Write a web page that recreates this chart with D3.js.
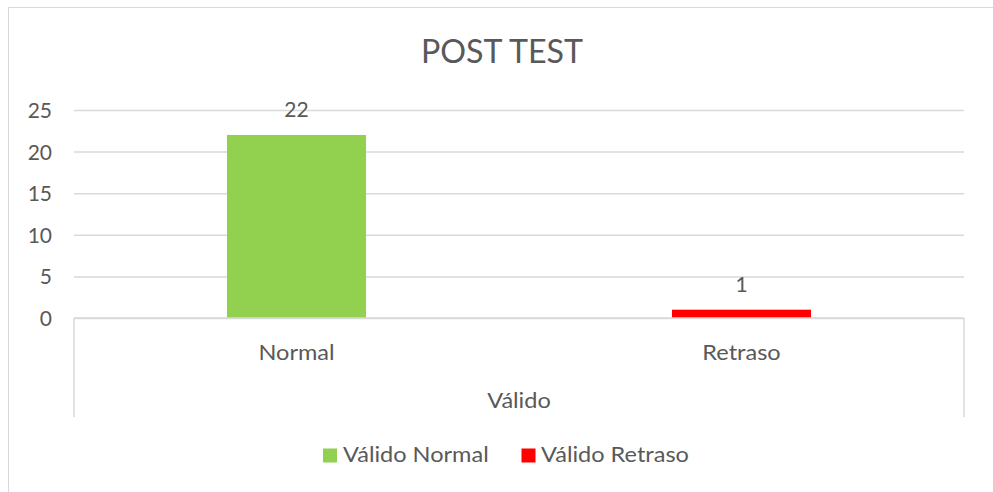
<!DOCTYPE html>
<html>
<head>
<meta charset="utf-8">
<script src="https://cdn.jsdelivr.net/npm/d3@7"></script>
<style>
  html, body { margin: 0; padding: 0; background: #fff; }
  svg { display: block; }
  text { font-family: Lato, "Open Sans", sans-serif; fill: #595959; }
</style>
</head>
<body>
<svg id="chart" width="993" height="492"></svg>
<script>
const title = "POST TEST";
const groupLabel = "Válido";
const categories = ["Normal", "Retraso"];
const seriesNames = ["Válido Normal", "Válido Retraso"];
const values = [22, 1];
const colors = ["#92D050", "#FF0000"];
const yTicks = [0, 5, 10, 15, 20, 25];

const svg = d3.select("#chart");

// widen a text element horizontally by a factor (Calibri-like proportions)
function stretch(sel, f) {
  sel.each(function () {
    const w = this.getComputedTextLength();
    d3.select(this).attr("textLength", w * f).attr("lengthAdjust", "spacingAndGlyphs");
  });
}

// outer chart frame
svg.append("rect")
  .attr("x", 8.5).attr("y", 7.5)
  .attr("width", 1000).attr("height", 500)
  .attr("fill", "none").attr("stroke", "#D9D9D9").attr("stroke-width", 1);

const pLeft = 74, pRight = 964, pTop = 110, pBottom = 318;

const x = d3.scaleBand().domain(categories).range([pLeft, pRight]).padding(0);
const y = d3.scaleLinear().domain([0, 25]).range([pBottom, pTop]);

// title
svg.append("text")
  .attr("x", 502).attr("y", 63)
  .attr("text-anchor", "middle")
  .style("font-size", "33px")
  .text(title)
  .call(stretch, 1.0)
  .each(function () { d3.select(this).attr("textLength", 162); });

// gridlines + y tick labels
const yAxis = d3.axisLeft(y).tickValues(yTicks).tickSize(-(pRight - pLeft)).tickPadding(22);
const gy = svg.append("g").attr("transform", `translate(${pLeft},0)`).call(yAxis);
gy.select(".domain").remove();
gy.selectAll(".tick line").attr("stroke", "#D9D9D9").attr("stroke-width", 1.5);
gy.selectAll(".tick text")
  .style("font-size", "21px").style("font-family", "Lato, sans-serif")
  .attr("fill", "#595959").attr("dy", "0.36em");

// bars
const bw = x.bandwidth() * 0.3125;
svg.append("g").selectAll("rect")
  .data(categories)
  .join("rect")
  .attr("x", (d) => x(d) + (x.bandwidth() - bw) / 2)
  .attr("width", bw)
  .attr("y", (d, i) => y(values[i]))
  .attr("height", (d, i) => y(0) - y(values[i]))
  .attr("fill", (d, i) => colors[i]);

// value labels
svg.append("g").selectAll("text")
  .data(categories)
  .join("text")
  .attr("x", (d) => x(d) + x.bandwidth() / 2)
  .attr("y", (d, i) => y(values[i]) - 18)
  .attr("text-anchor", "middle")
  .style("font-size", "21px")
  .text((d, i) => values[i]);

// category axis (multi-level)
const xAxis = d3.axisBottom(x).tickSize(0).tickPadding(0);
const gx = svg.append("g").attr("transform", `translate(0,${pBottom})`).call(xAxis);
gx.select(".domain").remove();
gx.selectAll(".tick text")
  .attr("y", 42).attr("dy", null)
  .style("font-size", "21px").style("font-family", "Lato, sans-serif").attr("fill", "#595959")
  .call(stretch, 1.12);

svg.append("line")
  .attr("x1", pLeft).attr("x2", pRight).attr("y1", pBottom).attr("y2", pBottom)
  .attr("stroke", "#D9D9D9").attr("stroke-width", 1.5);
[pLeft, pRight].forEach((xx) => {
  svg.append("line")
    .attr("x1", xx).attr("x2", xx).attr("y1", pBottom).attr("y2", 417)
    .attr("stroke", "#D9D9D9").attr("stroke-width", 1.5);
});

svg.append("text")
  .attr("x", (pLeft + pRight) / 2).attr("y", 408)
  .attr("text-anchor", "middle")
  .style("font-size", "21px")
  .text(groupLabel)
  .call(stretch, 1.12);

// legend
const legendItems = [
  { name: seriesNames[0], color: colors[0], x: 323, tx: 343 },
  { name: seriesNames[1], color: colors[1], x: 521.5, tx: 541 }
];
const lg = svg.append("g");
legendItems.forEach((it) => {
  lg.append("rect").attr("x", it.x).attr("y", 448.5).attr("width", 14).attr("height", 14).attr("fill", it.color);
  lg.append("text").attr("x", it.tx).attr("y", 462).style("font-size", "21px").text(it.name)
    .call(stretch, 1.12);
});
</script>
</body>
</html>
